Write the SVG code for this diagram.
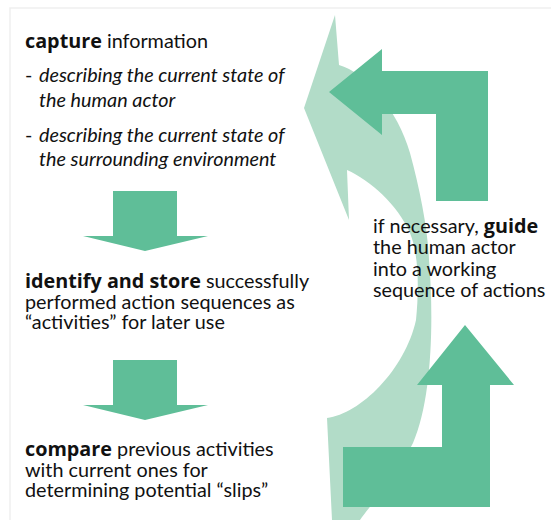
<svg xmlns="http://www.w3.org/2000/svg" width="551" height="520" viewBox="0 0 551 520">
  <style>
    .t { font-family: Lato, "Open Sans", "Liberation Sans", sans-serif; font-size: 19.8px; fill: #111; }
    .b { font-family: "Open Sans", Lato, sans-serif; font-weight: bold; font-size: 19.8px; }
    .i { font-style: italic; }
    .dark { fill: #5fbe98; }
    .light { fill: #b2dcc8; }
  </style>
  <rect width="551" height="520" fill="#ffffff"/>
  <path d="M10,520 V8 H551" fill="none" stroke="#efefef" stroke-width="1.5"/>
  <g id="connectors">
    <path id="loop-arrow" class="light" d="M332,520 L327,418 C360,414 405,370 416,320 C419,290 419,255 410,233 C398,205 370,180 347,170 L349,220 L304,108 L335,15 L339,65 C365,72 398,110 410,153 C420,190 428,230 429,260 C434,320 432,400 413,443 C395,480 370,505 360,520 Z"/>
    <path id="guide-arrow-top" class="dark" d="M329,92 L382,49 L382,71 L488,71 L488,201 L436,201 L436,114 L382,114 L382,135 Z"/>
    <path id="guide-arrow-bottom" class="dark" d="M465,325 L514,385 L490,385 L490,507 L343,507 L343,447 L442,447 L442,385 L417,385 Z"/>
    <path id="down-arrow-1" class="dark" d="M113,191 H177 V236 H208 L145,251 L83,236 H113 Z"/>
    <path id="down-arrow-2" class="dark" d="M113,360 H177 V405 H208 L145,420 L83,405 H113 Z"/>
  </g>
  <g id="capture">
    <text class="t" x="25" y="48"><tspan class="b">capture</tspan> information</text>
    <text class="t" x="25" y="82">-</text>
    <text class="t i" x="39" y="82">describing the current state of</text>
    <text class="t i" x="39" y="107">the human actor</text>
    <text class="t" x="25" y="142">-</text>
    <text class="t i" x="39" y="142">describing the current state of</text>
    <text class="t i" x="39" y="166">the surrounding environment</text>
  </g>
  <g id="identify">
    <text class="t" x="25" y="288"><tspan class="b">identify and store</tspan> successfully</text>
    <text class="t" x="25" y="308.5">performed action sequences as</text>
    <text class="t" x="25" y="329">“activities” for later use</text>
  </g>
  <g id="compare">
    <text class="t" x="25" y="456"><tspan class="b">compare</tspan> previous activities</text>
    <text class="t" x="25" y="476.5">with current ones for</text>
    <text class="t" x="25" y="497">determining potential “slips”</text>
  </g>
  <g id="guide">
    <text class="t" x="373" y="233">if necessary, <tspan class="b">guide</tspan></text>
    <text class="t" x="373" y="254">the human actor</text>
    <text class="t" x="373" y="275.5">into a working</text>
    <text class="t" x="373" y="296.5">sequence of actions</text>
  </g>
</svg>
